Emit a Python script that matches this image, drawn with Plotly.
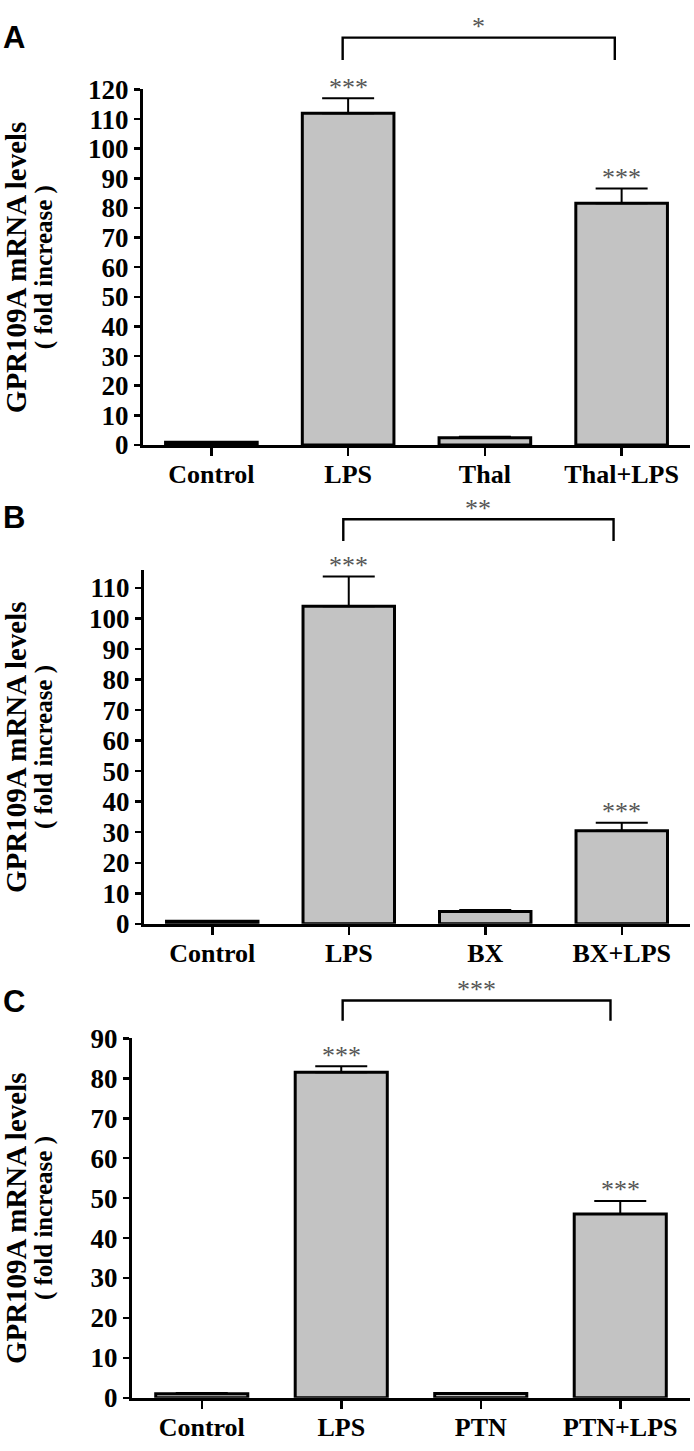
import plotly.graph_objects as go

W, H = 694, 1451

# ---------------- data ----------------
panel_letters = ["A", "B", "C"]
y_title_line1 = "GPR109A mRNA levels"
y_title_line2 = "( fold increase )"

categories_A = ["Control", "LPS", "Thal", "Thal+LPS"]
values_A = [0.9, 112.0, 2.4, 81.6]
errors_A = [0.1, 5.0, 0.4, 5.0]
stars_A = ["", "***", "", "***"]
compare_A = "*"
yticks_A = list(range(0, 121, 10))

categories_B = ["Control", "LPS", "BX", "BX+LPS"]
values_B = [0.8, 104.0, 4.0, 30.5]
errors_B = [0.1, 9.8, 0.5, 2.6]
stars_B = ["", "***", "", "***"]
compare_B = "**"
yticks_B = list(range(0, 111, 10))

categories_C = ["Control", "LPS", "PTN", "PTN+LPS"]
values_C = [1.0, 81.5, 1.1, 46.0]
errors_C = [0.2, 1.5, 0.1, 3.3]
stars_C = ["", "***", "", "***"]
compare_C = "***"
yticks_C = list(range(0, 91, 10))

# ---------------- layout geometry (pixels) ----------------
panels = [
    dict(cats=categories_A, vals=values_A, errs=errors_A, stars=stars_A, comp=compare_A, ticks=yticks_A,
         x_left=143, x_right=690, y_bottom=439, y_top=76, y_max=120, up_top=0,
         br_y=137.5, br_leg=129.9, br_x=(0.96, 2.95), bar_w=0.67),
    dict(cats=categories_B, vals=values_B, errs=errors_B, stars=stars_B, comp=compare_B, ticks=yticks_B,
         x_left=144, x_right=690, y_bottom=928, y_top=567, y_max=115.8, up_top=485,
         br_y=132.5, br_leg=125.4, br_x=(0.96, 2.94), bar_w=0.67),
    dict(cats=categories_C, vals=values_C, errs=errors_C, stars=stars_C, comp=compare_C, ticks=yticks_C,
         x_left=132, x_right=690, y_bottom=1412, y_top=1045, y_max=90, up_top=975,
         br_y=99.5, br_leg=94.4, br_x=(1.01, 2.93), bar_w=0.66),
]

SERIF = "Liberation Serif"
SANS = "Liberation Sans"
BAR_FILL = "#c3c3c3"
STAR_COLOR = "#555555"
STAR_FONT = dict(family=SERIF, size=26, color=STAR_COLOR)

fig = go.Figure()
annotations = []
layout_axes = {}


def py(px):
    return 1 - px / H


for i, p in enumerate(panels):
    n = i + 1
    xa = "x" if n == 1 else f"x{n}"
    ya = "y" if n == 1 else f"y{n}"
    ua = f"y{n + 3}"
    xkey = "xaxis" if n == 1 else f"xaxis{n}"
    ykey = "yaxis" if n == 1 else f"yaxis{n}"
    ukey = f"yaxis{n + 3}"

    idx = list(range(len(p["cats"])))
    dom_bottom = py(p["y_bottom"])
    dom_top = py(p["y_top"])
    up_dom_top = py(p["up_top"])
    up_max = p["y_max"] * (up_dom_top - dom_bottom) / (dom_top - dom_bottom)

    # bars with upper (one-sided) SEM error bars
    fig.add_trace(go.Bar(
        x=idx, y=p["vals"], xaxis=xa, yaxis=ya, width=p["bar_w"],
        marker=dict(color=BAR_FILL, line=dict(color="black", width=3)),
        error_y=dict(type="data", symmetric=False, array=p["errs"], arrayminus=[0] * len(idx),
                     color="black", thickness=2, width=26),
        showlegend=False, hoverinfo="skip", cliponaxis=False,
    ))

    # comparison bracket (upper helper axis shares the same scale)
    x0, x1 = p["br_x"]
    fig.add_trace(go.Scatter(
        x=[x0, x0, x1, x1], y=[p["br_leg"], p["br_y"], p["br_y"], p["br_leg"]],
        xaxis=xa, yaxis=ua, mode="lines", line=dict(color="black", width=2.4),
        showlegend=False, hoverinfo="skip",
    ))
    annotations.append(dict(x=(x0 + x1) / 2, y=p["br_y"], xref=xa, yref=ua, text=p["comp"],
                            showarrow=False, yanchor="middle", yshift=11, font=STAR_FONT))

    # significance stars over bars
    for j, s in enumerate(p["stars"]):
        if s:
            annotations.append(dict(x=j, y=p["vals"][j] + p["errs"][j], xref=xa, yref=ua, text=s,
                                    showarrow=False, yanchor="middle", yshift=11, font=STAR_FONT))

    layout_axes[xkey] = dict(
        domain=[p["x_left"] / W, p["x_right"] / W], anchor=ya, range=[-0.5, 3.5],
        tickmode="array", tickvals=idx, ticktext=p["cats"],
        showline=True, linecolor="black", linewidth=3,
        ticks="outside", ticklen=8, tickwidth=2.5, tickcolor="black",
        ticklabelstandoff=-4,
        showgrid=False, zeroline=False, fixedrange=True,
        tickfont=dict(family=SERIF, size=26, color="black", weight="bold"),
    )
    layout_axes[ykey] = dict(
        domain=[dom_bottom, dom_top], anchor=xa, range=[0, p["y_max"]],
        tickmode="array", tickvals=p["ticks"],
        showline=True, linecolor="black", linewidth=3,
        ticks="outside", ticklen=6, tickwidth=2.5, tickcolor="black",
        showgrid=False, zeroline=False, fixedrange=True,
        tickfont=dict(family=SERIF, size=27, color="black", weight="bold"),
    )
    layout_axes[ukey] = dict(
        domain=[dom_bottom, up_dom_top], anchor=xa, range=[0, up_max],
        visible=False, showgrid=False, zeroline=False, fixedrange=True,
    )

    # panel letter
    annotations.append(dict(x=1 / W, y=py([3, 493, 987][i]), xref="paper", yref="paper",
                            text=panel_letters[i], showarrow=False, xanchor="left", yanchor="top",
                            font=dict(family=SANS, size=31, color="black", weight="bold")))
    # y-axis title (two lines)
    yc = (dom_bottom + dom_top) / 2
    annotations.append(dict(x=16 / W, y=yc, xref="paper", yref="paper", text=y_title_line1,
                            textangle=-90, showarrow=False, xanchor="center", yanchor="middle",
                            font=dict(family=SERIF, size=29, color="black", weight="bold")))
    annotations.append(dict(x=44 / W, y=yc, xref="paper", yref="paper", text=y_title_line2,
                            textangle=-90, showarrow=False, xanchor="center", yanchor="middle",
                            font=dict(family=SERIF, size=25, color="black", weight="bold")))

fig.update_layout(
    width=W, height=H, autosize=False,
    margin=dict(l=0, r=0, t=0, b=0),
    paper_bgcolor="white", plot_bgcolor="rgba(0,0,0,0)",
    bargap=0, annotations=annotations, showlegend=False,
    **layout_axes,
)

fig.write_html(
    "out.html",
    config={"displayModeBar": False, "staticPlot": True},
    post_script="document.body.style.margin='0';document.body.style.overflow='hidden';",
)
